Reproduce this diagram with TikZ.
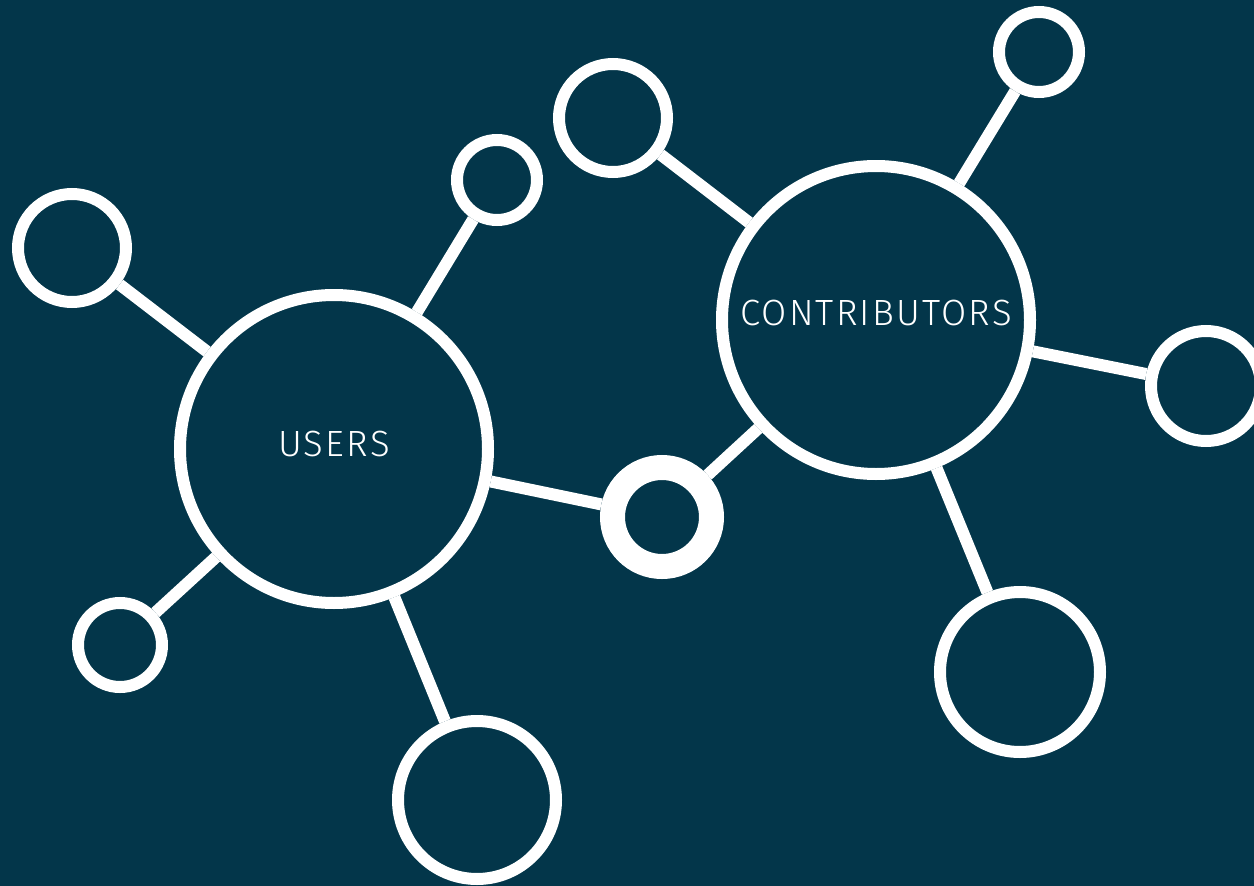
\documentclass[tikz,border=0pt]{standalone}
\usepackage{fontspec}
\newfontfamily\hubfont[LetterSpace=6]{Fira Sans Light}
\definecolor{hubbg}{HTML}{03364A}

\begin{document}
\begin{tikzpicture}[x=1pt,y=-1pt,
    hub/.style={circle,draw=white,line width=12pt,inner sep=0pt,text=white,font=\hubfont\fontsize{36.5}{36.5}\selectfont},
    link/.style={draw=white,line width=12pt}]
    \fill[hubbg] (0,0) rectangle (1254,886);
    \useasboundingbox (0,0) rectangle (1254,886);
    \node[hub,minimum size=308pt] (users) at (334,449) {};
    \node[hub,minimum size=308pt] (contrib) at (876,320) {};
    \node[text=white,font=\hubfont\fontsize{36.5}{36.5}\selectfont] (usersT) at (334,444) {USERS};
    \node[text=white,font=\hubfont\fontsize{36.5}{36.5}\selectfont] (contribT) at (876,313) {CONTRIBUTORS};
    \node[hub,line width=25pt,minimum size=99pt] (link) at (662,517) {};
    \node[hub,minimum size=108pt] (u1) at (72,248) {};
    \node[hub,minimum size=80pt] (u2) at (497,180) {};
    \node[hub,minimum size=84pt] (u3) at (120,645) {};
    \node[hub,minimum size=158pt] (u4) at (477,800) {};
    \node[hub,minimum size=108pt] (c1) at (613,118) {};
    \node[hub,minimum size=80pt] (c2) at (1039,52) {};
    \node[hub,minimum size=110pt] (c3) at (1206,386) {};
    \node[hub,minimum size=160pt] (c4) at (1020,672) {};
    \draw[link] (users) -- (u1);
    \draw[link] (users) -- (u2);
    \draw[link] (users) -- (u3);
    \draw[link] (users) -- (u4);
    \draw[link] (users) -- (link);
    \draw[link] (link) -- (contrib);
    \draw[link] (contrib) -- (c1);
    \draw[link] (contrib) -- (c2);
    \draw[link] (contrib) -- (c3);
    \draw[link] (contrib) -- (c4);
\end{tikzpicture}
\end{document}
